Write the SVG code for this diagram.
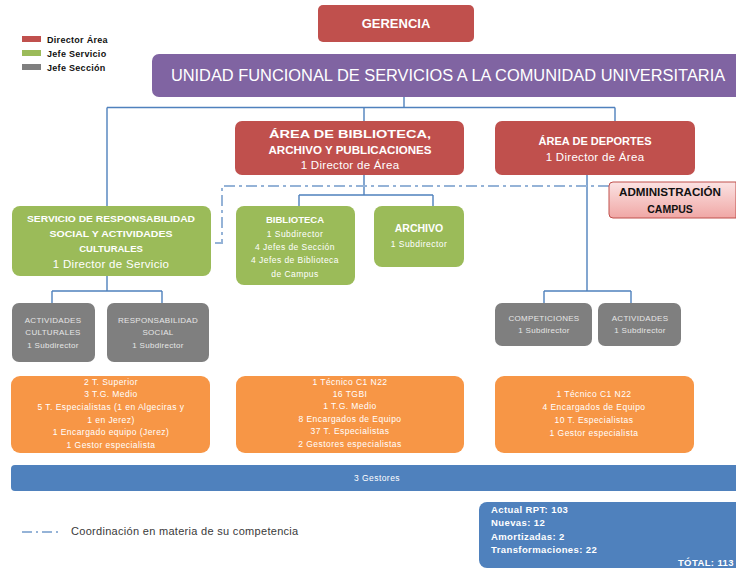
<svg xmlns="http://www.w3.org/2000/svg" width="736" height="569" viewBox="0 0 736 569">
  <defs>
    <linearGradient id="pinkFill" x1="0" y1="0" x2="0" y2="1">
      <stop offset="0" stop-color="#FBE3E3"/>
      <stop offset="1" stop-color="#F0A7A5"/>
    </linearGradient>
  </defs>
  <style>
    text { font-family: "Liberation Sans", "DejaVu Sans", sans-serif; text-anchor: middle; fill: #ffffff; }
    .red { fill: #C0504D; }
    .purple { fill: #8064A2; }
    .green { fill: #9BBB59; }
    .gray { fill: #7F7F7F; }
    .orange { fill: #F79646; }
    .blue { fill: #4F81BD; }
    .big { font-size: 13px; font-weight: bold; }
    .mid { font-size: 10.5px; font-weight: bold; }
    .sub { font-size: 11.5px; letter-spacing: 0.3px; }
    .tiny { font-size: 8.5px; letter-spacing: 0.45px; }
    .tinyb { font-size: 9.5px; font-weight: bold; letter-spacing: 0.4px; }
    .graytxt { fill: #E6E6E6; font-size: 8px; letter-spacing: 0.3px; }
    .legend { font-size: 9px; font-weight: bold; fill: #111; text-anchor: start; letter-spacing: 0.3px; }
    .link { fill: none; stroke: #4F81BD; stroke-width: 1.4; }
    .coord { fill: none; stroke: #95B3D7; stroke-width: 2; stroke-dasharray: 11 4 3 4; }
  </style>

  <!-- legend -->
  <g id="legend">
    <rect x="22" y="36" width="19" height="6" class="red"/>
    <text x="47" y="43" class="legend">Director  Área</text>
    <rect x="22" y="50" width="19" height="6" class="green"/>
    <text x="47" y="57" class="legend">Jefe Servicio</text>
    <rect x="22" y="64" width="19" height="6" class="gray"/>
    <text x="47" y="71" class="legend">Jefe Sección</text>
  </g>

  <!-- connectors -->
  <g id="connectors">
    <path class="link" d="M404 97 V107.5 M107 107.5 H615 M107 107.5 V206 M364 107.5 V121 M615 107.5 V121"/>
    <path class="link" d="M364 175 V195 M299 195 H433 M299 195 V206 M433 195 V206"/>
    <path class="link" d="M107 276 V291 M52 291 H162 M52 291 V303 M162 291 V303"/>
    <path class="link" d="M587 175 V291 M544 291 H631 M544 291 V303 M631 291 V303"/>
    <path class="coord" d="M609 186 H222 V243 H211"/>
  </g>

  <g id="gerencia">
    <rect x="318" y="5" width="156" height="37" rx="5" class="red"/>
    <text x="396" y="28" class="big">GERENCIA</text>
  </g>

  <g id="unidad">
    <!-- runs off the right edge of the sheet: only the left corners are rounded -->
    <path d="M159 54 H736 V97 H159 A7 7 0 0 1 152 90 V61 A7 7 0 0 1 159 54 Z" class="purple"/>
    <text transform="translate(448 81) scale(0.965 1)" x="0" y="0" font-size="17">UNIDAD FUNCIONAL DE SERVICIOS A LA COMUNIDAD UNIVERSITARIA</text>
  </g>

  <g id="area-biblioteca">
    <rect x="235" y="121" width="229" height="54" rx="7" class="red"/>
    <text x="350" y="138" class="mid" textLength="162" lengthAdjust="spacingAndGlyphs">ÁREA DE BIBLIOTECA,</text>
    <text x="350" y="154" class="mid" textLength="163" lengthAdjust="spacingAndGlyphs">ARCHIVO Y PUBLICACIONES</text>
    <text x="350" y="169" class="sub">1 Director de Área</text>
  </g>

  <g id="area-deportes">
    <rect x="495" y="121" width="200" height="54" rx="7" class="red"/>
    <text x="595" y="145" class="mid" textLength="113" lengthAdjust="spacingAndGlyphs">ÁREA DE DEPORTES</text>
    <text x="595" y="161" class="sub">1 Director de Área</text>
  </g>

  <g id="administracion-campus">
    <path d="M613 182 H736 V218 H613 A4 4 0 0 1 609 214 V186 A4 4 0 0 1 613 182 Z" fill="url(#pinkFill)" stroke="#C0504D" stroke-width="1"/>
    <text x="670" y="196" class="mid" style="fill:#111" textLength="102" lengthAdjust="spacingAndGlyphs">ADMINISTRACIÓN</text>
    <text x="670" y="213" class="mid" style="fill:#111">CAMPUS</text>
  </g>

  <g id="servicio-responsabilidad">
    <rect x="12" y="206" width="199" height="70" rx="8" class="green"/>
    <text x="111" y="222" style="font-size:9.5px;font-weight:bold" textLength="168" lengthAdjust="spacingAndGlyphs">SERVICIO DE RESPONSABILIDAD</text>
    <text x="111" y="237" style="font-size:9.5px;font-weight:bold" textLength="123" lengthAdjust="spacingAndGlyphs">SOCIAL Y ACTIVIDADES</text>
    <text x="111" y="252" style="font-size:9.5px;font-weight:bold">CULTURALES</text>
    <text x="111" y="268" class="sub">1 Director de Servicio</text>
  </g>

  <g id="biblioteca">
    <rect x="236" y="206" width="119" height="79" rx="8" class="green"/>
    <text x="295" y="223" style="font-size:9.5px;font-weight:bold">BIBLIOTECA</text>
    <text x="295" y="237" class="tiny">1 Subdirector</text>
    <text x="295" y="250" class="tiny">4 Jefes de Sección</text>
    <text x="295" y="263" class="tiny">4 Jefes de Biblioteca</text>
    <text x="295" y="277" class="tiny">de Campus</text>
  </g>

  <g id="archivo">
    <rect x="374" y="206" width="90" height="61" rx="8" class="green"/>
    <text x="419" y="232" style="font-size:10.5px;font-weight:bold">ARCHIVO</text>
    <text x="419" y="247" class="tiny">1 Subdirector</text>
  </g>

  <g id="actividades-culturales">
    <rect x="12" y="303" width="83" height="59" rx="7" class="gray"/>
    <text x="53" y="323" class="graytxt">ACTIVIDADES</text>
    <text x="53" y="335" class="graytxt">CULTURALES</text>
    <text x="53" y="348" class="graytxt">1 Subdirector</text>
  </g>

  <g id="responsabilidad-social">
    <rect x="107" y="303" width="102" height="59" rx="7" class="gray"/>
    <text x="158" y="323" class="graytxt">RESPONSABILIDAD</text>
    <text x="158" y="335" class="graytxt">SOCIAL</text>
    <text x="158" y="348" class="graytxt">1 Subdirector</text>
  </g>

  <g id="competiciones">
    <rect x="495" y="303" width="97" height="43" rx="7" class="gray"/>
    <text x="544" y="321" class="graytxt">COMPETICIONES</text>
    <text x="544" y="333" class="graytxt">1 Subdirector</text>
  </g>

  <g id="actividades-deportivas">
    <rect x="598" y="303" width="83" height="43" rx="7" class="gray"/>
    <text x="640" y="321" class="graytxt">ACTIVIDADES</text>
    <text x="640" y="333" class="graytxt">1 Subdirector</text>
  </g>

  <g id="personal-servicio">
    <rect x="11" y="376" width="199" height="77" rx="9" class="orange"/>
    <text x="111" y="385" class="tiny">2 T. Superior</text>
    <text x="111" y="397" class="tiny">3 T.G. Medio</text>
    <text x="111" y="410" class="tiny">5 T. Especialistas (1 en Algeciras y</text>
    <text x="111" y="423" class="tiny">1 en Jerez)</text>
    <text x="111" y="435" class="tiny">1 Encargado equipo (Jerez)</text>
    <text x="111" y="448" class="tiny">1 Gestor especialista</text>
  </g>

  <g id="personal-biblioteca">
    <rect x="236" y="376" width="228" height="77" rx="9" class="orange"/>
    <text x="350" y="385" class="tiny">1 Técnico C1 N22</text>
    <text x="350" y="397" class="tiny">16 TGBI</text>
    <text x="350" y="409" class="tiny">1 T.G. Medio</text>
    <text x="350" y="422" class="tiny">8 Encargados de Equipo</text>
    <text x="350" y="434" class="tiny">37 T. Especialistas</text>
    <text x="350" y="447" class="tiny">2 Gestores especialistas</text>
  </g>

  <g id="personal-deportes">
    <rect x="495" y="376" width="199" height="77" rx="9" class="orange"/>
    <text x="594" y="397" class="tiny">1 Técnico C1 N22</text>
    <text x="594" y="410" class="tiny">4 Encargados de Equipo</text>
    <text x="594" y="423" class="tiny">10 T. Especialistas</text>
    <text x="594" y="436" class="tiny">1 Gestor especialista</text>
  </g>

  <g id="gestores">
    <path d="M15 465 H736 V491 H15 A4 4 0 0 1 11 487 V469 A4 4 0 0 1 15 465 Z" class="blue"/>
    <text x="377" y="481" class="tiny">3 Gestores</text>
  </g>

  <g id="coordinacion-legend">
    <path class="coord" d="M22 532 H60" style="stroke-dasharray:10 4 2 4"/>
    <text x="71" y="535" style="text-anchor:start;fill:#3a3a3a;font-size:11px;letter-spacing:0.3px">Coordinación  en materia de su competencia</text>
  </g>

  <g id="totales">
    <path d="M487 502 H736 V568 H487 A8 8 0 0 1 479 560 V510 A8 8 0 0 1 487 502 Z" class="blue"/>
    <text x="491" y="513" class="tinyb" style="text-anchor:start">Actual RPT: 103</text>
    <text x="491" y="526" class="tinyb" style="text-anchor:start">Nuevas: 12</text>
    <text x="491" y="540" class="tinyb" style="text-anchor:start">Amortizadas: 2</text>
    <text x="491" y="553" class="tinyb" style="text-anchor:start">Transformaciones: 22</text>
    <text x="734" y="566" class="tinyb" style="text-anchor:end">TÓTAL: 113</text>
  </g>
</svg>
